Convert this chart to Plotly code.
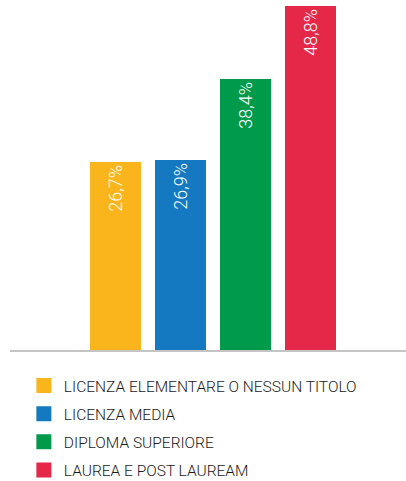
import plotly.graph_objects as go

categories = ["LICENZA ELEMENTARE O NESSUN TITOLO", "LICENZA MEDIA", "DIPLOMA SUPERIORE", "LAUREA E POST LAUREAM"]
values = [26.7, 26.9, 38.4, 48.8]
labels = ["26,7%", "26,9%", "38,4%", "48,8%"]
colors = ["#F9B51B", "#1479C1", "#009A4B", "#E62848"]

fig = go.Figure()
for i, (c, v, t, col) in enumerate(zip(categories, values, labels, colors)):
    fig.add_trace(go.Bar(
        x=[i], y=[v], width=0.785, marker=dict(color=col, line=dict(width=0)),
        text=[t], textposition="inside", insidetextanchor="end", textangle=-90,
        textfont=dict(family="Roboto", size=18, color="white", weight=300),
        showlegend=False, hoverinfo="skip", cliponaxis=False,
    ))
for i, (c, col) in enumerate(zip(categories, colors)):
    fig.add_trace(go.Scatter(
        x=[None], y=[None], mode="markers", name=c, legendgroup=f"g{i}",
        marker=dict(symbol="square", size=15, color=col),
    ))

fig.update_layout(
    width=406, height=481,
    margin=dict(l=10, r=0, t=6, b=131, autoexpand=False),
    paper_bgcolor="white", plot_bgcolor="white",
    bargap=0,
    xaxis=dict(range=[-1.623, 4.469], showgrid=False, zeroline=False, showticklabels=False,
               showline=True, linecolor="#C4C4C4", linewidth=2, ticks=""),
    yaxis=dict(range=[0, 48.8], showgrid=False, zeroline=False, showticklabels=False,
               showline=False, ticks=""),
    legend=dict(x=0.035, y=-0.055, xanchor="left", yanchor="top", traceorder="grouped",
                font=dict(family="Roboto", size=15.5, color="#1A1A1A", weight=300),
                itemsizing="trace", tracegroupgap=5, bgcolor="rgba(0,0,0,0)"),
)
fig.write_html("out.html", config={"displayModeBar": False},
               post_script="document.body.style.margin='0';")
